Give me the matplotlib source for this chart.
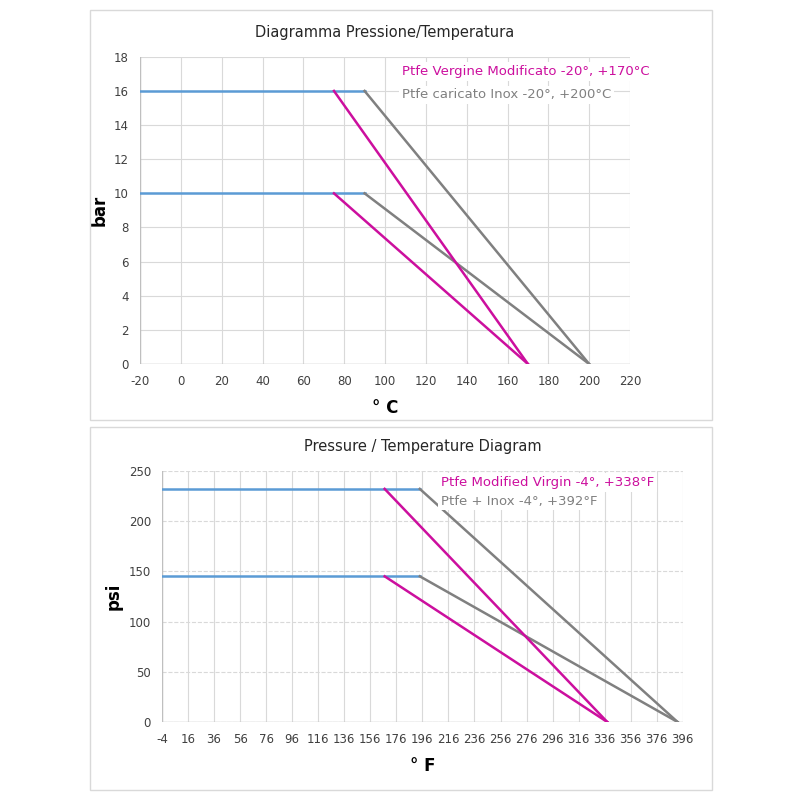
import matplotlib.pyplot as plt
from matplotlib.patches import Rectangle

plt.rcParams['axes.unicode_minus'] = False

# top chart (°C / bar)
c_blue_x = [-20, 90]
c_hi, c_lo = 16, 10
c_mag_x = [75, 170]
c_gray_x = [90, 200]
c_xticks = list(range(-20, 221, 20))
c_yticks = list(range(0, 19, 2))

# bottom chart (°F / psi)
f_blue_x = [-4, 194]
f_hi, f_lo = 232, 145
f_mag_x = [167, 338]
f_gray_x = [194, 392]
f_xticks = list(range(-4, 397, 20))
f_yticks = list(range(0, 251, 50))

BLUE = '#5b9bd5'
MAG = '#cc0f9e'
GRAY = '#808080'

fig = plt.figure(figsize=(8, 8), dpi=100)
for (x0, y0, w, h) in [(90, 10, 622, 410), (90, 427, 622, 363)]:
    fig.add_artist(Rectangle((x0 / 800, 1 - (y0 + h) / 800), w / 800, h / 800,
                             transform=fig.transFigure, fill=False, ec='#d9d9d9', lw=1))


def draw(ax, bx, hi, lo, mx, gx, xt, yt, title, xl, yl, leg1, leg2, hdash):
    for y in (hi, lo):
        ax.plot(bx, [y, y], color=BLUE, lw=1.8, zorder=3)
        ax.plot(mx, [y, 0], color=MAG, lw=1.8, zorder=4)
        ax.plot(gx, [y, 0], color=GRAY, lw=1.8, zorder=3)
    ax.set_xlim(xt[0], xt[-1])
    ax.set_ylim(yt[0], yt[-1])
    ax.set_xticks(xt)
    ax.set_yticks(yt)
    ax.tick_params(length=0, pad=8, labelsize=8.5, colors='#404040')
    ax.grid(axis='x', color='#d9d9d9', lw=0.8)
    ax.grid(axis='y', color='#d9d9d9', lw=0.8, ls='--' if hdash else '-')
    for s in ax.spines.values():
        s.set_visible(False)
    ax.axvline(xt[0], color='#bfbfbf', lw=1)
    ax.axhline(yt[0], color='#bfbfbf', lw=1)
    ax.set_title(title, fontsize=10.5, color='#262626', pad=14)
    ax.set_xlabel(xl, fontsize=12, fontweight='bold', labelpad=8)
    ax.set_ylabel(yl, fontsize=12, fontweight='bold')
    ax.text(0.535, 0.94, leg1, transform=ax.transAxes, color=MAG, fontsize=9.5,
            bbox=dict(fc='white', ec='none', pad=2), zorder=5)
    ax.text(0.535, 0.865, leg2, transform=ax.transAxes, color=GRAY, fontsize=9.5,
            bbox=dict(fc='white', ec='none', pad=2), zorder=5)


ax1 = fig.add_axes([0.175, 0.545, 0.6125, 0.384])
draw(ax1, c_blue_x, c_hi, c_lo, c_mag_x, c_gray_x, c_xticks, c_yticks,
     'Diagramma Pressione/Temperatura', '° C', 'bar',
     'Ptfe Vergine Modificato -20°, +170°C', 'Ptfe caricato Inox -20°, +200°C', False)

ax2 = fig.add_axes([0.2025, 0.0975, 0.651, 0.314])
draw(ax2, f_blue_x, f_hi, f_lo, f_mag_x, f_gray_x, f_xticks, f_yticks,
     'Pressure / Temperature Diagram', '° F', 'psi',
     'Ptfe Modified Virgin -4°, +338°F', 'Ptfe + Inox -4°, +392°F', True)

fig.savefig('out.png', dpi=100)
